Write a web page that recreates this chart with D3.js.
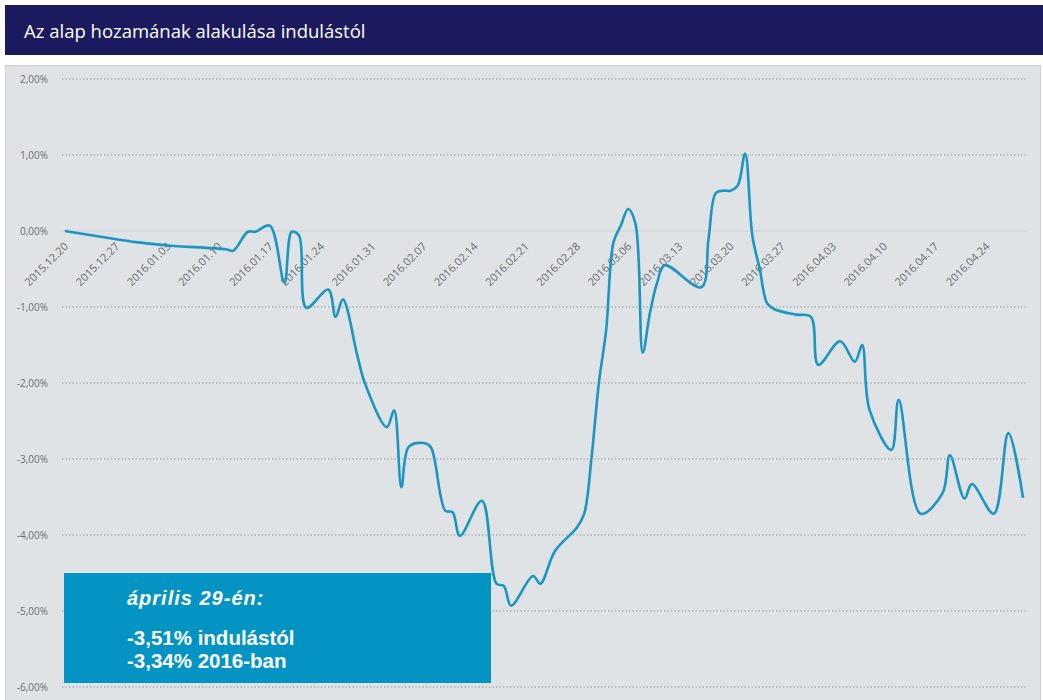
<!DOCTYPE html>
<html>
<head>
<meta charset="utf-8">
<script src="https://cdn.jsdelivr.net/npm/d3@7"></script>
<style>
  body { margin: 0; background: #fff; }
  svg { display: block; }
</style>
</head>
<body>
<svg id="chart" width="1043" height="700"></svg>
<script>
const title = 'Az alap hozamának alakulása indulástól';

// dates (yyyy-mm-dd) and cumulative return in %
const dates = [
  '2015-12-20','2015-12-30','2016-01-03','2016-01-11','2016-01-12','2016-01-14','2016-01-15','2016-01-17',
  '2016-01-19','2016-01-20','2016-01-21','2016-01-22','2016-01-25','2016-01-26','2016-01-27','2016-01-29',
  '2016-01-30','2016-02-02','2016-02-03','2016-02-04','2016-02-05','2016-02-07','2016-02-08','2016-02-10',
  '2016-02-11','2016-02-12','2016-02-15','2016-02-17','2016-02-18','2016-02-19','2016-02-22','2016-02-23',
  '2016-02-25','2016-02-28','2016-02-29','2016-03-01','2016-03-02','2016-03-03','2016-03-04','2016-03-05',
  '2016-03-06','2016-03-07','2016-03-08','2016-03-09','2016-03-10','2016-03-11','2016-03-16','2016-03-17',
  '2016-03-18','2016-03-19','2016-03-20','2016-03-21','2016-03-22','2016-03-23','2016-03-24','2016-03-25',
  '2016-03-26','2016-03-29','2016-03-31','2016-04-01','2016-04-04','2016-04-06','2016-04-07','2016-04-08',
  '2016-04-11','2016-04-12','2016-04-15','2016-04-18','2016-04-19','2016-04-21','2016-04-22','2016-04-25',
  '2016-04-27','2016-04-29'
];
const returns = [
  0, -0.15, -0.19, -0.24, -0.26, -0.01, -0.01, 0.07,
  -0.68, -0.01, -0.06, -1.01, -0.77, -1.13, -0.90, -1.65,
  -2.00, -2.58, -2.36, -3.37, -2.84, -2.79, -2.84, -3.68,
  -3.70, -4.01, -3.55, -4.64, -4.67, -4.93, -4.54, -4.64,
  -4.21, -3.90, -3.72, -2.98, -2.00, -1.30, -0.15, 0.07,
  0.29, 0.10, -1.60, -1.07, -0.67, -0.45, -0.74, -0.10,
  0.50, 0.53, 0.53, 0.60, 1.02, -0.07, -0.50, -0.95,
  -1.03, -1.10, -1.13, -1.76, -1.45, -1.72, -1.50, -2.35,
  -2.88, -2.22, -3.72, -3.45, -2.95, -3.52, -3.33, -3.72,
  -2.66, -3.51
];

const yTicks = [2, 1, 0, -1, -2, -3, -4, -5, -6];
const xTickStart = '2015-12-20';
const xTickEnd = '2016-04-24';

const noteTitle = 'április 29-én:';
const noteLines = ['-3,51% indulástól', '-3,34% 2016-ban'];

const parse = d3.timeParse('%Y-%m-%d');
const fmt = d3.timeFormat('%Y.%m.%d');
const data = dates.map((d, i) => ({ date: parse(d), value: returns[i] }));

const svg = d3.select('#chart');

// header bar
svg.append('rect')
  .attr('x', 5).attr('y', 5)
  .attr('width', 1038).attr('height', 50)
  .attr('fill', '#1b1a5e');

svg.append('text')
  .attr('x', 24).attr('y', 38)
  .attr('font-family', 'Open Sans, sans-serif')
  .attr('font-size', 18.5)
  .attr('fill', '#fff')
  .text(title);

// plot panel
svg.append('rect')
  .attr('x', 5.5).attr('y', 65.5)
  .attr('width', 1035).attr('height', 640)
  .attr('fill', '#dfe3e6')
  .attr('stroke', '#cfd3d6');

const x = d3.scaleTime()
  .domain([parse('2015-12-20'), parse('2016-04-29')])
  .range([65, 1023]);

const y = d3.scaleLinear()
  .domain([-6, 2])
  .range([687, 79]);

// gridlines
svg.selectAll('.grid')
  .data(yTicks)
  .enter()
  .append('line')
  .attr('x1', 62).attr('x2', 1027)
  .attr('y1', d => y(d)).attr('y2', d => y(d))
  .attr('stroke', d => d === 0 ? '#cdd1d4' : '#a9acae')
  .attr('stroke-width', d => d === 0 ? 1 : 1.3)
  .attr('stroke-dasharray', d => d === 0 ? null : '1.3,2.2');

// y labels
const pct = d => d.toFixed(2).replace('.', ',') + '%';
svg.selectAll('.ylab')
  .data(yTicks)
  .enter()
  .append('text')
  .attr('x', 48)
  .attr('y', d => y(d) + 3.5)
  .attr('text-anchor', 'end')
  .attr('font-family', 'Open Sans, sans-serif')
  .attr('font-size', 10)
  .attr('fill', '#6a6e71')
  .text(pct);

// x labels, weekly, rotated
const xTicks = d3.timeWeek.range(parse(xTickStart), d3.timeDay.offset(parse(xTickEnd), 1));
svg.selectAll('.xlab')
  .data(xTicks)
  .enter()
  .append('text')
  .attr('transform', d => `translate(${x(d) + 4}, 247) rotate(-45)`)
  .attr('text-anchor', 'end')
  .attr('font-family', 'Open Sans, sans-serif')
  .attr('font-size', 11)
  .attr('fill', '#6a6e71')
  .text(fmt);

// line
const line = d3.line()
  .x(d => x(d.date))
  .y(d => y(d.value))
  .curve(d3.curveCatmullRom.alpha(0.5));

svg.append('path')
  .datum(data)
  .attr('fill', 'none')
  .attr('stroke', '#1b96c2')
  .attr('stroke-width', 2.6)
  .attr('stroke-linejoin', 'round')
  .attr('d', line);

// annotation box
svg.append('rect')
  .attr('x', 64).attr('y', 573)
  .attr('width', 427).attr('height', 110)
  .attr('fill', '#0494c4');

svg.append('text')
  .attr('x', 127).attr('y', 605)
  .attr('font-family', 'Liberation Sans, Arial, sans-serif')
  .attr('font-size', 20)
  .attr('font-weight', 'bold')
  .attr('font-style', 'italic')
  .attr('letter-spacing', 1)
  .attr('fill', '#fff')
  .text(noteTitle);

svg.selectAll('.note')
  .data(noteLines)
  .enter()
  .append('text')
  .attr('x', 127)
  .attr('y', (d, i) => 645 + i * 23)
  .attr('font-family', 'Liberation Sans, Arial, sans-serif')
  .attr('font-size', 20.5)
  .attr('font-weight', 'bold')
  .attr('fill', '#fff')
  .text(d => d);
</script>
</body>
</html>
